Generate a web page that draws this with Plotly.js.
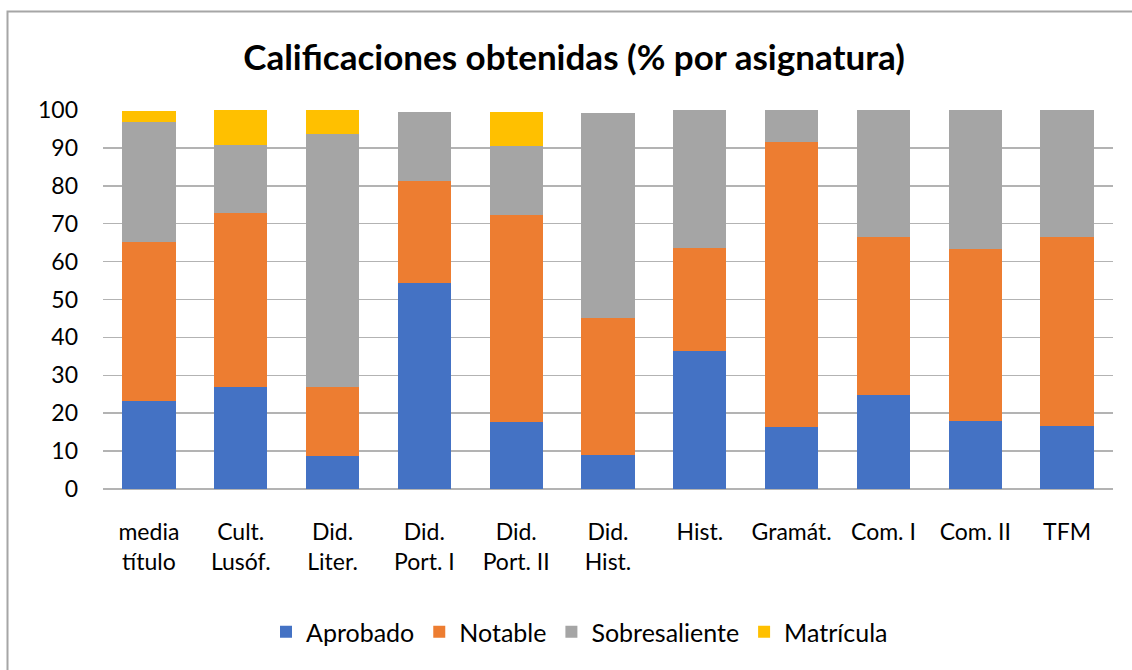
<!DOCTYPE html>
<html>
<head>
<meta charset="utf-8">
<script src="https://cdn.plot.ly/plotly-3.0.1.min.js"></script>
<style>
  html, body { margin: 0; padding: 0; background: #ffffff; }
  #chart { width: 1132px; height: 670px; }
</style>
</head>
<body>
<div id="chart"></div>
<script>
const categories = [
  "media<br>título", "Cult.<br>Lusóf.", "Did.<br>Liter.", "Did.<br>Port. I", "Did.<br>Port. II",
  "Did.<br>Hist.", "Hist.", "Gramát.", "Com. I", "Com. II", "TFM"
];
const aprobado      = [23.2, 26.8,  8.7, 54.4, 17.7,  9.0, 36.3, 16.4, 24.8, 18.0, 16.6];
const notable       = [42.0, 46.1, 18.2, 26.9, 54.7, 36.2, 27.4, 75.2, 41.7, 45.4, 49.9];
const sobresaliente = [31.7, 17.9, 66.9, 18.3, 18.2, 54.1, 36.3,  8.4, 33.5, 36.6, 33.5];
const matricula     = [ 2.9,  9.2,  6.2,  0.0,  9.0,  0.0,  0.0,  0.0,  0.0,  0.0,  0.0];
const seriesNames   = ["Aprobado", "Notable", "Sobresaliente", "Matrícula"];
const seriesColors  = ["#4472C4", "#ED7D31", "#A5A5A5", "#FFC000"];
const yTicks        = [0, 10, 20, 30, 40, 50, 60, 70, 80, 90, 100];

const seriesValues = [aprobado, notable, sobresaliente, matricula];
const traces = seriesValues.map((vals, i) => ({
  type: "bar",
  name: seriesNames[i],
  x: categories,
  y: vals,
  marker: { color: seriesColors[i], line: { width: 0 } },
  hoverinfo: "skip"
}));

const FONT = "Lato, 'Open Sans', 'DejaVu Sans', sans-serif";
const M = { l: 103, r: 19, t: 110, b: 181 };
const plotW = 1132 - M.l - M.r, plotH = 670 - M.t - M.b;

const layout = {
  width: 1132, height: 670,
  margin: M,
  paper_bgcolor: "#ffffff", plot_bgcolor: "#ffffff",
  barmode: "stack",
  bargap: 0.42,
  font: { family: FONT, size: 23, color: "#000000" },
  title: {
    text: "<b>Calificaciones obtenidas (% por asignatura)</b>",
    font: { family: FONT, size: 35, color: "#000000" },
    xref: "paper", yref: "container",
    x: (574 - M.l) / plotW, xanchor: "center",
    y: 1 - 58 / 670, yanchor: "middle"
  },
  xaxis: {
    type: "category",
    tickfont: { family: FONT, size: 23, color: "#000000" },
    showgrid: false, zeroline: false, showline: false,
    ticks: "", ticklabelstandoff: 27
  },
  yaxis: {
    range: [0, 100],
    tickvals: yTicks,
    tickfont: { family: FONT, size: 23, color: "#000000" },
    showgrid: true, gridcolor: "#b3b3b3", gridwidth: 1.5,
    zeroline: true, zerolinecolor: "#b3b3b3", zerolinewidth: 1.5,
    showline: false, ticks: "", ticklabelstandoff: 24,
    fixedrange: true
  },
  legend: {
    orientation: "h",
    xref: "container", yref: "container",
    x: 579.5 / 1132, xanchor: "center",
    y: 1 - 632 / 670, yanchor: "middle",
    font: { family: FONT, size: 25, color: "#000000" },
    traceorder: "normal",
    itemclick: false, itemdoubleclick: false
  },
  shapes: [{
    type: "rect", xref: "paper", yref: "paper",
    x0: (7.5 - M.l) / plotW, x1: (1150 - M.l) / plotW,
    y0: (670 - M.b - 690) / plotH, y1: (670 - M.b - 11.5) / plotH,
    line: { color: "#a6a6a6", width: 2 }, fillcolor: "rgba(0,0,0,0)",
    layer: "above"
  }],
  showlegend: true
};

Plotly.newPlot("chart", traces, layout, { displayModeBar: false, staticPlot: true });
</script>
</body>
</html>
